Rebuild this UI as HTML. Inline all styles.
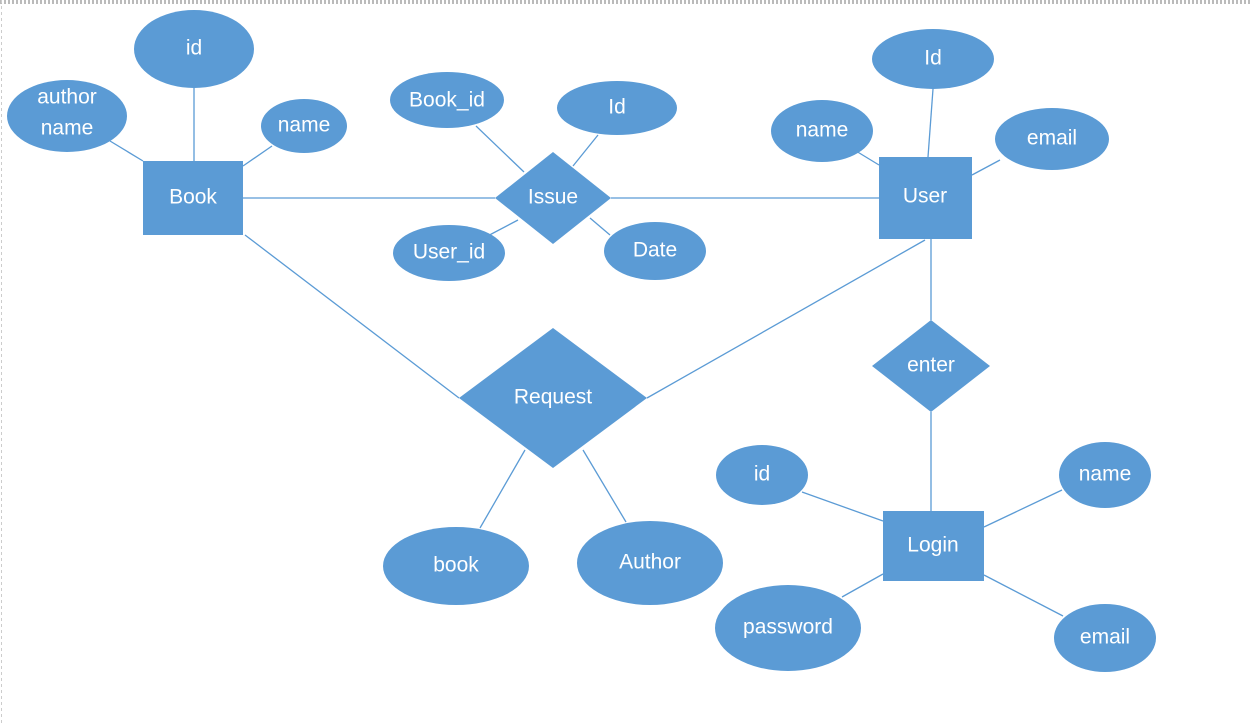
<!DOCTYPE html>
<html><head><style>
html,body{margin:0;padding:0;background:#fff;}
svg{display:block;}
text{font-family:"Liberation Sans",sans-serif;font-size:21px;fill:#fff;text-anchor:middle;dominant-baseline:central;}
</style></head><body>
<svg width="1252" height="726" viewBox="0 0 1252 726" xmlns="http://www.w3.org/2000/svg">
<rect x="0" y="0" width="1252" height="726" fill="#fff"/>
<line x1="0" y1="2" x2="1252" y2="2" stroke="#bbb" stroke-width="4" stroke-dasharray="2,2"/>
<line x1="1.5" y1="0" x2="1.5" y2="726" stroke="#ccc" stroke-width="1" stroke-dasharray="3,3"/>
<g stroke="#5B9BD5" stroke-width="1.3">
<line x1="194" y1="88" x2="194" y2="161"/>
<line x1="110" y1="141" x2="143" y2="161"/>
<line x1="272" y1="146" x2="243" y2="166"/>
<line x1="243" y1="198" x2="495" y2="198"/>
<line x1="611" y1="198" x2="879" y2="198"/>
<line x1="476" y1="126" x2="524" y2="172"/>
<line x1="598" y1="135" x2="573" y2="166"/>
<line x1="480" y1="240" x2="518" y2="220"/>
<line x1="610" y1="235" x2="590" y2="218"/>
<line x1="245" y1="235" x2="459" y2="398"/>
<line x1="647" y1="398" x2="925" y2="240"/>
<line x1="928" y1="157" x2="933" y2="89"/>
<line x1="856" y1="151" x2="879" y2="165"/>
<line x1="1000" y1="160" x2="972" y2="175"/>
<line x1="931" y1="239" x2="931" y2="320"/>
<line x1="931" y1="412" x2="931" y2="511"/>
<line x1="802" y1="492" x2="883" y2="521"/>
<line x1="1062" y1="490" x2="984" y2="527"/>
<line x1="842" y1="597" x2="883" y2="574"/>
<line x1="1063" y1="616" x2="984" y2="575"/>
<line x1="525" y1="450" x2="480" y2="528"/>
<line x1="583" y1="450" x2="626" y2="522"/>
</g>
<g fill="#5B9BD5">
<ellipse cx="194" cy="49" rx="60" ry="39"/>
<ellipse cx="67" cy="116" rx="60" ry="36"/>
<ellipse cx="304" cy="126" rx="43" ry="27"/>
<rect x="143" y="161" width="100" height="74"/>
<ellipse cx="447" cy="100" rx="57" ry="28"/>
<ellipse cx="617" cy="108" rx="60" ry="27"/>
<polygon points="553,152 611,198 553,244 495,198"/>
<ellipse cx="449" cy="253" rx="56" ry="28"/>
<ellipse cx="655" cy="251" rx="51" ry="29"/>
<ellipse cx="933" cy="59" rx="61" ry="30"/>
<ellipse cx="822" cy="131" rx="51" ry="31"/>
<ellipse cx="1052" cy="139" rx="57" ry="31"/>
<rect x="879" y="157" width="93" height="82"/>
<polygon points="931,320 990,366 931,412 872,366"/>
<polygon points="553,328 647,398 553,468 459,398"/>
<ellipse cx="456" cy="566" rx="73" ry="39"/>
<ellipse cx="650" cy="563" rx="73" ry="42"/>
<ellipse cx="762" cy="475" rx="46" ry="30"/>
<ellipse cx="1105" cy="475" rx="46" ry="33"/>
<rect x="883" y="511" width="101" height="70"/>
<ellipse cx="788" cy="628" rx="73" ry="43"/>
<ellipse cx="1105" cy="638" rx="51" ry="34"/>
</g>
<text x="194" y="48">id</text>
<text x="67" y="97">author</text>
<text x="67" y="128">name</text>
<text x="304" y="125">name</text>
<text x="193" y="197">Book</text>
<text x="447" y="100">Book_id</text>
<text x="617" y="107">Id</text>
<text x="553" y="197">Issue</text>
<text x="449" y="252">User_id</text>
<text x="655" y="250">Date</text>
<text x="933" y="58">Id</text>
<text x="822" y="130">name</text>
<text x="1052" y="138">email</text>
<text x="925" y="196">User</text>
<text x="931" y="365">enter</text>
<text x="553" y="397">Request</text>
<text x="456" y="565">book</text>
<text x="650" y="562">Author</text>
<text x="762" y="474">id</text>
<text x="1105" y="474">name</text>
<text x="933" y="545">Login</text>
<text x="788" y="627">password</text>
<text x="1105" y="637">email</text>
</svg>
</body></html>
